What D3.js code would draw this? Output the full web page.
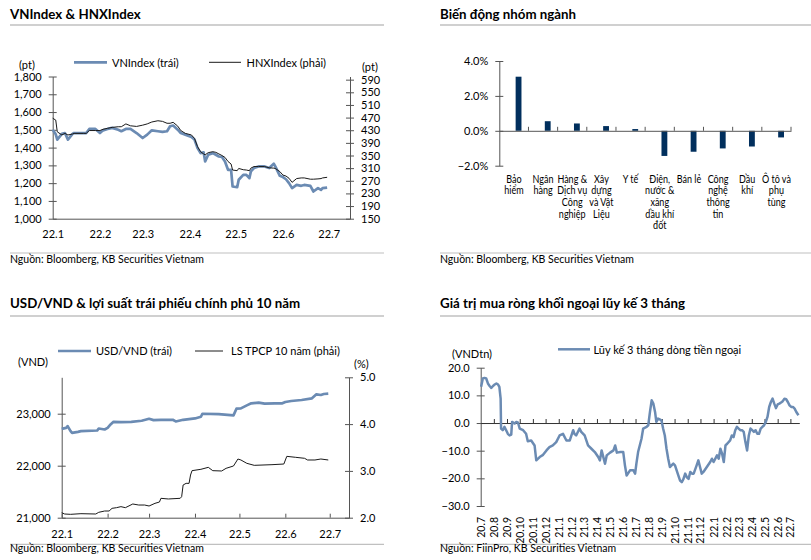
<!DOCTYPE html>
<html><head><meta charset="utf-8">
<script src="https://cdn.jsdelivr.net/npm/d3@7"></script>
<style>
body{margin:0;background:#fff;}
svg text{font-family:Lato,"Open Sans",sans-serif;fill:#000;}
</style></head><body>
<svg id="c" width="811" height="560"></svg>
<script>
// ---------- Panel 1: VNIndex & HNXIndex ----------
const p1Dates = ["2022-01-04","2022-01-06","2022-01-07","2022-01-10","2022-01-12","2022-01-14","2022-01-17","2022-01-18","2022-01-24","2022-01-26","2022-01-28",
"2022-02-01","2022-02-04","2022-02-06","2022-02-09","2022-02-12","2022-02-16","2022-02-18","2022-02-21","2022-02-24","2022-02-28",
"2022-03-04","2022-03-07","2022-03-10","2022-03-14","2022-03-17","2022-03-20","2022-03-22","2022-03-24","2022-03-27","2022-03-29",
"2022-04-01","2022-04-05","2022-04-07","2022-04-09","2022-04-11","2022-04-13","2022-04-14","2022-04-16","2022-04-19","2022-04-21","2022-04-23","2022-04-25","2022-04-27","2022-04-29",
"2022-05-01","2022-05-02","2022-05-05","2022-05-06","2022-05-09","2022-05-11","2022-05-13","2022-05-14","2022-05-16","2022-05-19","2022-05-23","2022-05-26","2022-05-29","2022-05-30",
"2022-06-02","2022-06-04","2022-06-06","2022-06-08","2022-06-10","2022-06-13","2022-06-16","2022-06-18","2022-06-22","2022-06-24","2022-06-27","2022-06-29","2022-06-30",
"2022-07-03"];
const vnIndex = [1501,1475,1445,1477,1482,1445,1477,1482,1482,1482,1505,
1505,1482,1497,1505,1511,1500,1492,1505,1505,1482,
1454,1473,1497,1492,1488,1492,1520,1524,1501,1482,
1473,1460,1445,1397,1369,1373,1322,1360,1369,1360,1350,1347,1322,1275,
1275,1181,1177,1219,1247,1247,1228,1266,1285,1294,1294,1285,1309,1294,
1241,1234,1222,1200,1172,1190,1185,1190,1185,1153,1172,1162,1172,
1175];
const hnxIndex = [468,462,425,415,420,415,418,420,420,420,429,
429,429,433,436,439,441,441,450,444,442,
446,450,456,460,458,452,452,455,443,429,
420,415,404,378,362,355,352,359,362,360,355,350,344,331,
323,304,302,309,305,304,302,310,315,315,315,311,310,309,
299,288,285,278,265,277,279,279,275,275,276,277,279,
281];
const p1LeftTicks = [1000,1100,1200,1300,1400,1500,1600,1700,1800];
const p1RightTicks = [150,190,230,270,310,350,390,430,470,510,550,590];
const monthTickDates = ["2022-01-04","2022-02-04","2022-03-04","2022-04-04","2022-05-04","2022-06-04","2022-07-04"];
const monthTickLabels = ["22.1","22.2","22.3","22.4","22.5","22.6","22.7"];

// ---------- Panel 2: sectors ----------
const sectors = ["Bảo|hiểm","Ngân|hàng","Hàng &|Dịch vụ|Công|nghiệp","Xây|dựng|và Vật|Liệu","Y tế","Điện,|nước &|xăng|dầu khí|đốt","Bán lẻ","Công|nghệ|thông|tin","Dầu|khí","Ô tô và|phụ|tùng"];
const sectorChange = [3.1,0.55,0.42,0.27,0.1,-1.44,-1.2,-1.01,-0.9,-0.38];
const p2Ticks = [-2,0,2,4];

// ---------- Panel 3: USD/VND & 10y yield ----------
const usdDates = ["2022-01-04","2022-01-07","2022-01-08","2022-01-10","2022-01-11","2022-01-15","2022-01-17","2022-01-28","2022-01-29",
"2022-02-02","2022-02-04","2022-02-06","2022-02-08","2022-02-13","2022-02-20","2022-02-27",
"2022-03-04","2022-03-07","2022-03-12","2022-03-20","2022-03-22","2022-03-27",
"2022-04-04","2022-04-08","2022-04-09","2022-04-20","2022-04-30",
"2022-05-02","2022-05-05","2022-05-09","2022-05-12","2022-05-17","2022-05-21","2022-05-28",
"2022-06-02","2022-06-04","2022-06-08","2022-06-15","2022-06-22","2022-06-25","2022-06-28","2022-06-30",
"2022-07-03"];
const usdVnd = [22709,22728,22761,22664,22632,22651,22664,22677,22715,
22696,22728,22793,22844,22838,22844,22864,
22902,22877,22883,22883,22851,22883,
22909,22941,22999,22993,22967,
23096,23102,23160,23199,23212,23193,23199,
23199,23225,23244,23263,23296,23373,23360,23379,
23386];
const yieldDates = ["2022-01-04","2022-01-06","2022-01-10","2022-01-17","2022-01-27","2022-01-29",
"2022-02-02","2022-02-05","2022-02-07","2022-02-10","2022-02-13","2022-02-16","2022-02-21","2022-02-25",
"2022-03-01","2022-03-04","2022-03-08","2022-03-11","2022-03-12","2022-03-17","2022-03-25","2022-03-26","2022-03-27","2022-03-29","2022-03-31",
"2022-04-01","2022-04-02","2022-04-08","2022-04-13","2022-04-16","2022-04-22","2022-04-25","2022-04-30",
"2022-05-03","2022-05-05","2022-05-09","2022-05-14","2022-05-26",
"2022-06-03","2022-06-05","2022-06-11","2022-06-17","2022-06-19","2022-06-24","2022-06-28",
"2022-07-03"];
const bondYield = [2.107,2.079,2.072,2.086,2.079,2.115,
2.143,2.143,2.200,2.214,2.236,2.214,2.293,2.271,
2.271,2.250,2.307,2.335,2.414,2.400,2.414,2.449,2.699,2.734,2.734,
2.912,3.005,3.034,3.076,3.005,2.998,3.055,3.105,
3.254,3.233,3.162,3.119,3.133,
3.147,3.311,3.290,3.269,3.233,3.233,3.254,
3.233];
const p3LeftTicks = [21000,22000,23000];
const p3RightTicks = [2,3,4,5];

// ---------- Panel 4: foreign net buying, 3-month cumulative ----------
const flowDates = ["2020-07-02","2020-07-06","2020-07-10","2020-07-14","2020-07-18","2020-07-22","2020-07-26","2020-07-30","2020-08-03","2020-08-07","2020-08-11","2020-08-14","2020-08-17","2020-08-18","2020-08-22","2020-08-26","2020-08-30","2020-09-03","2020-09-07","2020-09-11","2020-09-13","2020-09-19","2020-09-23","2020-09-27","2020-10-01","2020-10-09","2020-10-16","2020-10-20","2020-10-28","2020-11-05","2020-11-09","2020-11-17","2020-11-25","2020-12-03","2020-12-10","2020-12-18","2020-12-26",
"2021-01-03","2021-01-11","2021-01-19","2021-01-27","2021-02-04","2021-02-07","2021-02-11","2021-02-19","2021-02-23","2021-03-03","2021-03-11","2021-03-19","2021-03-27","2021-04-04","2021-04-08","2021-04-12","2021-04-20","2021-04-24","2021-05-02","2021-05-10","2021-05-14","2021-05-18","2021-05-26","2021-06-02","2021-06-06","2021-06-10","2021-06-18","2021-06-26","2021-06-30","2021-07-03","2021-07-07","2021-07-15","2021-07-19","2021-07-27","2021-07-31","2021-08-04","2021-08-08","2021-08-12","2021-08-16","2021-08-19","2021-08-23","2021-08-27","2021-08-31","2021-09-04","2021-09-08","2021-09-12","2021-09-16","2021-09-20","2021-09-28","2021-10-02","2021-10-10","2021-10-14","2021-10-18","2021-10-22","2021-10-26","2021-10-30","2021-11-03","2021-11-07","2021-11-11","2021-11-15","2021-11-22","2021-11-26","2021-11-30","2021-12-04","2021-12-08","2021-12-16","2021-12-24","2021-12-28",
"2022-01-01","2022-01-09","2022-01-13","2022-01-17","2022-01-21","2022-01-25","2022-01-29","2022-02-02","2022-02-09","2022-02-13","2022-02-17","2022-02-21","2022-02-25","2022-03-01","2022-03-05","2022-03-09","2022-03-13","2022-03-17","2022-03-21","2022-03-25","2022-03-29","2022-04-02","2022-04-06","2022-04-10","2022-04-14","2022-04-18","2022-04-22","2022-04-26","2022-04-30","2022-05-04","2022-05-08","2022-05-12","2022-05-16","2022-05-20","2022-05-24","2022-05-28","2022-06-01","2022-06-05","2022-06-09","2022-06-13","2022-06-17","2022-06-21","2022-06-25","2022-06-29","2022-07-03","2022-07-07","2022-07-11","2022-07-15","2022-07-20"];
const flowValues = [13.1,16.1,16.3,16.1,14.3,13.4,12.7,13.4,13.9,14.3,13.9,13.1,8.8,-2.0,-2.6,-1.4,-2.6,-3.9,-4.5,-4.2,0.4,-0.2,0.4,0.1,-2.0,-2.6,-3.9,-6.6,-6.3,-8.1,-13.5,-12.3,-11.5,-9.9,-8.7,-8.1,-6.9,
-4.5,-3.9,-6.3,-6.3,-2.6,-3.9,-4.5,-2.0,-3.2,-4.5,-8.1,-9.3,-10.5,-12.3,-13.5,-9.9,-14.7,-11.7,-10.7,-9.9,-8.1,-10.7,-10.5,-10.5,-15.3,-19.0,-17.1,-17.1,-18.3,-14.7,-10.5,-5.7,-2.0,-1.4,-0.8,4.0,8.2,7.0,4.0,0.4,1.6,1.3,1.0,-2.0,-4.5,-9.3,-12.9,-15.9,-14.7,-15.3,-19.0,-20.8,-21.4,-20.2,-18.3,-19.6,-20.2,-17.7,-18.3,-18.3,-15.3,-13.5,-15.9,-18.3,-17.7,-15.9,-14.1,-12.9,
-14.1,-11.7,-12.9,-9.3,-11.1,-14.1,-8.1,-7.5,-6.3,-4.5,-5.1,-2.6,-1.4,-2.0,-2.6,-2.6,-3.2,-6.9,-9.9,-4.5,-2.0,-2.6,-3.2,-2.6,-3.9,-3.9,-2.0,-1.4,-0.8,0.4,2.2,5.8,7.6,8.8,7.0,5.4,6.7,7.0,7.4,7.9,8.8,8.6,7.6,6.4,5.8,5.8,5.2,4.0,2.8];
const p4Ticks = [-30,-20,-10,0,10,20];

// ---------- drawing ----------
const svg = d3.select("#c");
const P = d3.timeParse("%Y-%m-%d");
const FONT = 'Lato, "Open Sans", sans-serif';
const BLUE = "#6b8bb3";
const AX = "#555";

function frame(x0, x1, titleY, sepY, title, srcSepY, srcY, src) {
  svg.append("text").attr("x", x0).attr("y", titleY).attr("font-size", 13.3).attr("font-weight", 700).text(title);
  svg.append("line").attr("x1", x0).attr("x2", x1).attr("y1", sepY).attr("y2", sepY).attr("stroke", "#c0c0c0").attr("stroke-width", 1.5);
  svg.append("line").attr("x1", x0).attr("x2", x1).attr("y1", srcSepY).attr("y2", srcSepY).attr("stroke", "#c0c0c0").attr("stroke-width", 1.2);
  svg.append("text").attr("x", x0).attr("y", srcY).attr("font-size", 10.5).text(src);
}
function txt(x, y, s, anchor) {
  return svg.append("text").attr("x", x).attr("y", y).attr("font-size", 11).attr("text-anchor", anchor || "start").text(s);
}
function yAxis(scale, side, ticks, fmt, x) {
  const ax = (side === "left" ? d3.axisLeft(scale) : d3.axisRight(scale))
    .tickValues(ticks).tickFormat(fmt).tickSizeInner(4).tickSizeOuter(0).tickPadding(7);
  const g = svg.append("g").attr("transform", `translate(${x},0)`).call(ax);
  g.attr("font-family", FONT).attr("font-size", 11).attr("color", AX);
  g.selectAll(".tick line").attr("x1", -4).attr("x2", 4);
  g.selectAll("text").attr("fill", "#000");
  return g;
}
function legendLine(x1, x2, y, color, w) {
  svg.append("line").attr("x1", x1).attr("x2", x2).attr("y1", y).attr("y2", y).attr("stroke", color).attr("stroke-width", w);
}

// Panel 1
frame(10, 384, 18.5, 25, "VNIndex & HNXIndex", 253, 263, "Nguồn: Bloomberg, KB Securities Vietnam");
{
  const x = d3.scaleTime().domain([P("2022-01-04"), P("2022-07-18")]).range([52.7, 350]);
  const yL = d3.scaleLinear().domain([1000, 1800]).range([218.7, 76.5]);
  const yR = d3.scaleLinear().domain([150, 600]).range([218.7, 76.5]);
  yAxis(yL, "left", p1LeftTicks, d3.format(","), 52.7);
  yAxis(yR, "right", p1RightTicks, d3.format("d"), 350);
  const gx = svg.append("g").attr("transform", "translate(0,218.7)")
    .call(d3.axisBottom(x).tickValues(monthTickDates.map(P)).tickFormat((d, i) => monthTickLabels[i]).tickSize(0).tickSizeOuter(0).tickPadding(12));
  gx.attr("font-family", FONT).attr("font-size", 11).attr("color", AX);
  gx.selectAll("text").attr("fill", "#000");
  const data = p1Dates.map((d, i) => ({ d: P(d), vn: vnIndex[i], hnx: hnxIndex[i] }));
  svg.append("path").datum(data).attr("fill", "none").attr("stroke", BLUE).attr("stroke-width", 2.7).attr("stroke-linejoin", "round")
    .attr("d", d3.line().x(d => x(d.d)).y(d => yL(d.vn)));
  svg.append("path").datum(data).attr("fill", "none").attr("stroke", "#1a1a1a").attr("stroke-width", 1).attr("stroke-linejoin", "round")
    .attr("d", d3.line().x(d => x(d.d)).y(d => yR(d.hnx)));
  legendLine(74, 107, 62.3, BLUE, 2.7);
  txt(112, 66.5, "VNIndex (trái)");
  legendLine(209, 241, 62.3, "#1a1a1a", 1);
  txt(246.5, 66.5, "HNXIndex (phải)");
  txt(19, 69, "(pt)");
  txt(362, 71, "(pt)");
}

// Panel 2
frame(440, 811, 18.5, 25, "Biến động nhóm ngành", 253, 263, "Nguồn: Bloomberg, KB Securities Vietnam");
{
  const x = d3.scaleBand().domain(sectors).range([499.3, 791]).padding(0);
  const y = d3.scaleLinear().domain([-2, 4]).range([165.7, 61]);
  const bw = x.bandwidth();
  svg.append("g").selectAll("rect").data(sectors).join("rect")
    .attr("x", d => x(d) + bw * 0.56).attr("width", bw * 0.2)
    .attr("y", (d, i) => y(Math.max(0, sectorChange[i])))
    .attr("height", (d, i) => Math.abs(y(sectorChange[i]) - y(0)))
    .attr("fill", "#012f5d");
  yAxis(y, "left", p2Ticks, d => d3.format(".1f")(d) + "%", 499.3);
  const gx = svg.append("g").attr("transform", `translate(0,${y(0)})`)
    .call(d3.axisBottom(x).tickValues([]).tickSizeOuter(0));
  gx.attr("color", AX);
  svg.append("g").selectAll("line").data(sectors).join("line")
    .attr("x1", d => x(d) + bw).attr("x2", d => x(d) + bw)
    .attr("y1", y(0)).attr("y2", y(0) - 4).attr("stroke", AX);
  sectors.forEach(s => {
    const t = svg.append("text").attr("font-size", 10.5).attr("text-anchor", "middle")
      .attr("transform", `translate(${x(s) + bw / 2},0) scale(0.86,1)`);
    s.split("|").forEach((ln, j) => {
      t.append("tspan").attr("x", 0).attr("y", 182.7 + j * 11.7).text(ln);
    });
  });
}

// Panel 3
frame(10, 384, 307.5, 316, "USD/VND & lợi suất trái phiếu chính phủ 10 năm", 544.3, 552, "Nguồn: Bloomberg, KB Securities Vietnam");
{
  const x = d3.scaleTime().domain([P("2022-01-04"), P("2022-07-17")]).range([61.7, 349]);
  const yL = d3.scaleLinear().domain([21000, 23700]).range([517.7, 377.3]);
  const yR = d3.scaleLinear().domain([2, 5]).range([517.7, 377.3]);
  yAxis(yL, "left", p3LeftTicks, d3.format(","), 61.7);
  yAxis(yR, "right", p3RightTicks, d3.format(".1f"), 349);
  const gx = svg.append("g").attr("transform", "translate(0,517.7)")
    .call(d3.axisBottom(x).tickValues(monthTickDates.map(P)).tickFormat((d, i) => monthTickLabels[i]).tickSizeInner(-4).tickSizeOuter(0).tickPadding(12.5));
  gx.attr("font-family", FONT).attr("font-size", 11).attr("color", AX);
  gx.selectAll("text").attr("fill", "#000");
  const usd = usdDates.map((d, i) => ({ d: P(d), v: usdVnd[i] }));
  const yl = yieldDates.map((d, i) => ({ d: P(d), v: bondYield[i] }));
  svg.append("path").datum(usd).attr("fill", "none").attr("stroke", BLUE).attr("stroke-width", 2.7).attr("stroke-linejoin", "round")
    .attr("d", d3.line().x(d => x(d.d)).y(d => yL(d.v)));
  svg.append("path").datum(yl).attr("fill", "none").attr("stroke", "#1a1a1a").attr("stroke-width", 1).attr("stroke-linejoin", "round")
    .attr("d", d3.line().x(d => x(d.d)).y(d => yR(d.v)));
  legendLine(58, 91, 351, BLUE, 2.7);
  txt(96, 355, "USD/VND (trái)");
  legendLine(195, 223, 351, "#1a1a1a", 1);
  txt(231, 355, "LS TPCP 10 năm (phải)");
  txt(18, 366, "(VND)");
  txt(354, 367.5, "(%)");
}

// Panel 4
frame(440, 811, 307.5, 316, "Giá trị mua ròng khối ngoại lũy kế 3 tháng", 544.3, 552, "Nguồn: FiinPro, KB Securities Vietnam");
{
  const x = d3.scaleTime().domain([P("2020-07-01"), P("2022-07-22")]).range([480.7, 799.3]);
  const y = d3.scaleLinear().domain([-30, 20]).range([506, 367.7]);
  yAxis(y, "left", p4Ticks, d3.format(".1f"), 480.7);
  const months = d3.timeMonth.range(P("2020-07-01"), P("2022-07-02"));
  const gx = svg.append("g").attr("transform", `translate(0,${y(0)})`)
    .call(d3.axisBottom(x).tickValues(months.slice(1)).tickFormat("").tickSizeInner(-4).tickSizeOuter(0));
  gx.attr("color", "#333");
  svg.append("g").selectAll("text").data(months).join("text")
    .attr("transform", d => `translate(${x(d) + 4},517) rotate(-90)`)
    .attr("text-anchor", "end").attr("font-size", 10.5)
    .text(d3.timeFormat("%y.%-m"));
  const fl = flowDates.map((d, i) => ({ d: P(d), v: flowValues[i] }));
  svg.append("path").datum(fl).attr("fill", "none").attr("stroke", BLUE).attr("stroke-width", 2.5).attr("stroke-linejoin", "round")
    .attr("d", d3.line().x(d => x(d.d)).y(d => y(d.v)));
  legendLine(558, 590, 349.3, BLUE, 2.5);
  txt(593.5, 354, "Lũy kế 3 tháng dòng tiền ngoại");
  txt(452, 358, "(VNDtn)");
}
</script>
</body></html>
